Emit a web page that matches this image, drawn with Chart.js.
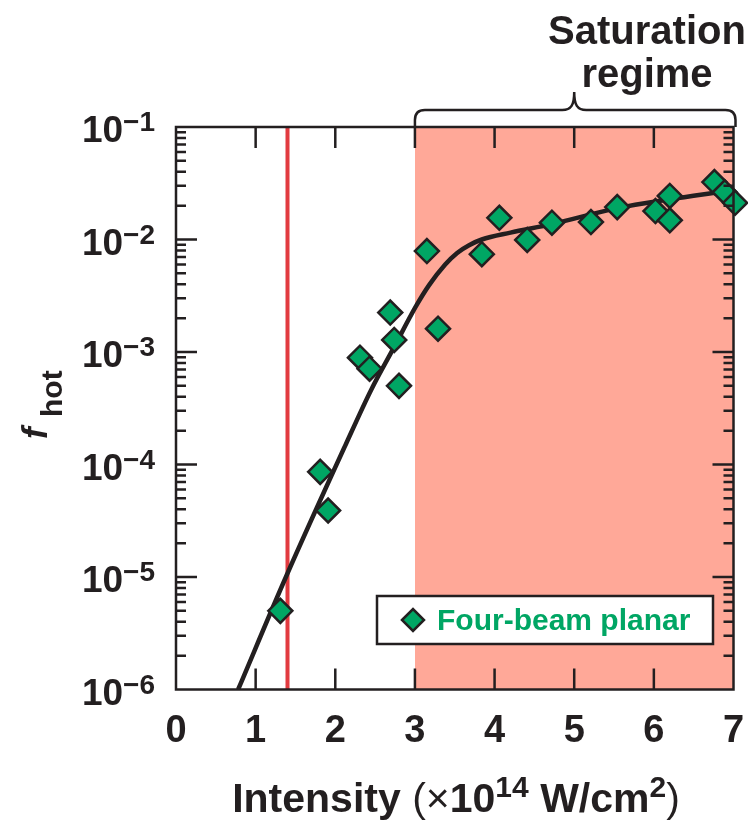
<!DOCTYPE html>
<html>
<head>
<meta charset="utf-8">
<style>
  html, body { margin: 0; padding: 0; background: #fff; }
  canvas { display: block; }
</style>
<script src="https://cdn.jsdelivr.net/npm/chart.js@4.4.0/dist/chart.umd.min.js"></script>
</head>
<body>
<canvas id="fhotChart" width="748" height="825"></canvas>
<script>
"use strict";

// Measured hot-electron fraction (four-beam planar shots)
const intensity = [1.31, 1.81, 1.91, 2.31, 2.43, 2.69, 2.74, 2.80, 3.15, 3.29, 3.84,
  4.06, 4.41, 4.72, 5.21, 5.54, 6.02, 6.20, 6.20, 6.76, 6.89, 7.02];
const fHot = [5.0e-6, 8.6e-5, 3.9e-5, 8.9e-4, 7.1e-4, 2.24e-3, 1.28e-3, 5.0e-4, 7.9e-3,
  1.61e-3, 7.4e-3, 1.56e-2, 9.9e-3, 1.41e-2, 1.43e-2, 1.94e-2, 1.79e-2, 2.44e-2,
  1.48e-2, 3.24e-2, 2.63e-2, 2.12e-2];

// Fit curve
const fitIntensity = [0.78, 1.38, 2.13, 2.45, 2.74, 3.01, 3.18, 3.38, 3.53, 3.68, 3.84, 4.20, 4.72, 5.54, 6.20, 6.85];
const fitFHot = [1.0e-6, 1.0e-5, 1.5e-4, 4.6e-4, 1.11e-3, 2.53e-3, 3.95e-3, 6.0e-3, 7.6e-3,
  8.9e-3, 1.0e-2, 1.15e-2, 1.37e-2, 1.9e-2, 2.28e-2, 2.66e-2];

// Threshold line and saturation band
const thresholdIntensity = 1.4;
const saturationRange = [3, 7];

// Axis ticks
const xTicks = [0, 1, 2, 3, 4, 5, 6, 7];
const yExponents = [-1, -2, -3, -4, -5, -6];

const dark = "#231f20";
const green = "#00a664";
const shade = "#ffa898";
const red = "#e23b40";
const family = '"Liberation Sans", Arial, sans-serif';
const font = (size, style = "bold") => `${style} ${size}px ${family}`;

// Draws rich text pieces one after another: [text, font, dy]
const drawPieces = function (ctx, pieces, x, y) {
  let cx = x;
  pieces.forEach(([text, f, dy]) => {
    ctx.font = f;
    ctx.fillText(text, cx, y + (dy || 0));
    cx += ctx.measureText(text).width;
  });
  return cx;
};

const piecesWidth = function (ctx, pieces) {
  let w = 0;
  pieces.forEach(([text, f]) => {
    ctx.font = f;
    w += ctx.measureText(text).width;
  });
  return w;
};

const framePlugin = {
  id: "frame",
  afterDatasetsDraw(chart) {
    const { ctx, chartArea: area, scales } = chart;
    const xs = scales.x;
    const ys = scales.y;
    ctx.save();
    ctx.strokeStyle = dark;
    ctx.fillStyle = dark;
    ctx.lineWidth = 2.5;

    // ticks on all four sides, pointing inwards
    ctx.beginPath();
    xTicks.slice(1, -1).forEach((v) => {
      const px = xs.getPixelForValue(v);
      ctx.moveTo(px, area.bottom);
      ctx.lineTo(px, area.bottom - 21);
      ctx.moveTo(px, area.top);
      ctx.lineTo(px, area.top + 21);
    });
    yExponents.slice(1).forEach((e) => {
      for (let m = 1; m <= 9; m++) {
        const py = ys.getPixelForValue(m * Math.pow(10, e));
        const len = m === 1 ? 21 : 10;
        if (m === 1 && e === -6) continue;
        ctx.moveTo(area.left, py);
        ctx.lineTo(area.left + len, py);
        ctx.moveTo(area.right, py);
        ctx.lineTo(area.right - len, py);
      }
    });
    ctx.stroke();
    ctx.strokeRect(area.left, area.top, area.right - area.left, area.bottom - area.top);

    // x tick labels
    ctx.textAlign = "center";
    ctx.textBaseline = "alphabetic";
    ctx.font = font(38);
    xTicks.forEach((v) => {
      ctx.fillText(String(v), xs.getPixelForValue(v), 742);
    });

    // y tick labels 10^e
    ctx.textAlign = "left";
    yExponents.forEach((e) => {
      const py = ys.getPixelForValue(Math.pow(10, e));
      const pieces = [["10", font(37), 0], ["\u2212" + Math.abs(e), font(28), -11]];
      const w = piecesWidth(ctx, pieces);
      drawPieces(ctx, pieces, 155 - w, py + 15);
    });

    // x axis title
    const title = [
      ["Intensity ", font(41), 0],
      ["(", font(41, "normal"), 0],
      ["\u00d7", font(41, "normal"), 0],
      ["10", font(41), 0],
      ["14", font(30), -15],
      [" W/cm", font(41), 0],
      ["2", font(30), -15],
      [")", font(41, "normal"), 0],
    ];
    const tw = piecesWidth(ctx, title);
    drawPieces(ctx, title, 456 - tw / 2, 812);

    // y axis title f_hot
    ctx.save();
    ctx.translate(47, 439);
    ctx.rotate(-Math.PI / 2);
    ctx.font = font(35, "italic bold");
    ctx.fillText("f", 0, 0);
    ctx.font = font(30);
    ctx.fillText("hot", 22, 15);
    ctx.restore();

    // brace over the saturation band
    const bx0 = xs.getPixelForValue(saturationRange[0]);
    const bx1 = xs.getPixelForValue(saturationRange[1]) + 2;
    const bm = xs.getPixelForValue((saturationRange[0] + saturationRange[1]) / 2);
    const by = 110;
    const r = 10;
    ctx.beginPath();
    ctx.moveTo(bx0, area.top);
    ctx.lineTo(bx0, by + r);
    ctx.quadraticCurveTo(bx0, by, bx0 + r, by);
    ctx.lineTo(bm - 12, by);
    ctx.bezierCurveTo(bm - 3, by, bm, by - 5, bm, 92);
    ctx.bezierCurveTo(bm, by - 5, bm + 3, by, bm + 12, by);
    ctx.lineTo(bx1 - r, by);
    ctx.quadraticCurveTo(bx1, by, bx1, by + r);
    ctx.lineTo(bx1, area.top);
    ctx.stroke();

    ctx.textAlign = "center";
    ctx.font = font(40);
    ctx.fillText("Saturation", 647, 44);
    ctx.fillText("regime", 647, 87);

    // legend
    const lx = 377, ly = 596, lw = 336, lh = 48;
    ctx.fillStyle = "#fff";
    ctx.fillRect(lx, ly, lw, lh);
    ctx.strokeRect(lx, ly, lw, lh);
    const ds = chart.data.datasets[0];
    const cx = lx + 36, cy = ly + lh / 2;
    ctx.beginPath();
    ctx.moveTo(cx - 11, cy);
    ctx.lineTo(cx, cy - 11);
    ctx.lineTo(cx + 11, cy);
    ctx.lineTo(cx, cy + 11);
    ctx.closePath();
    ctx.fillStyle = ds.backgroundColor;
    ctx.fill();
    ctx.stroke();
    ctx.fillStyle = green;
    ctx.textAlign = "left";
    ctx.font = font(30);
    ctx.fillText(ds.label, lx + 60, ly + 34);

    ctx.restore();
  },
};

const ctx = document.getElementById("fhotChart").getContext("2d");

new Chart(ctx, {
  type: "scatter",
  data: {
    datasets: [
      {
        label: "Four-beam planar",
        data: intensity.map((v, i) => ({ x: v, y: fHot[i] })),
        pointStyle: "rectRot",
        pointRadius: 12,
        backgroundColor: green,
        borderColor: dark,
        borderWidth: 2.5,
        clip: false,
        order: 0,
      },
      {
        type: "line",
        label: "fit",
        data: fitIntensity.map((v, i) => ({ x: v, y: fitFHot[i] })),
        borderColor: dark,
        borderWidth: 4.5,
        pointRadius: 0,
        cubicInterpolationMode: "monotone",
        fill: false,
        order: 1,
      },
      {
        type: "line",
        label: "threshold",
        data: [
          { x: thresholdIntensity, y: 1e-6 },
          { x: thresholdIntensity, y: 1e-1 },
        ],
        borderColor: red,
        borderWidth: 4,
        pointRadius: 0,
        order: 2,
      },
      {
        type: "line",
        label: "saturation",
        data: [
          { x: saturationRange[0], y: 1e-1 },
          { x: saturationRange[1], y: 1e-1 },
        ],
        borderWidth: 0,
        borderColor: shade,
        backgroundColor: shade,
        pointRadius: 0,
        fill: "start",
        order: 3,
      },
    ],
  },
  options: {
    responsive: false,
    animation: false,
    events: [],
    layout: {
      padding: { left: 176, right: 12, top: 127, bottom: 135.5 },
    },
    scales: {
      x: { type: "linear", min: 0, max: 7, display: false },
      y: { type: "logarithmic", min: 1e-6, max: 1e-1, display: false },
    },
    plugins: {
      legend: { display: false },
      tooltip: { enabled: false },
    },
  },
  plugins: [framePlugin],
});
</script>
</body>
</html>
